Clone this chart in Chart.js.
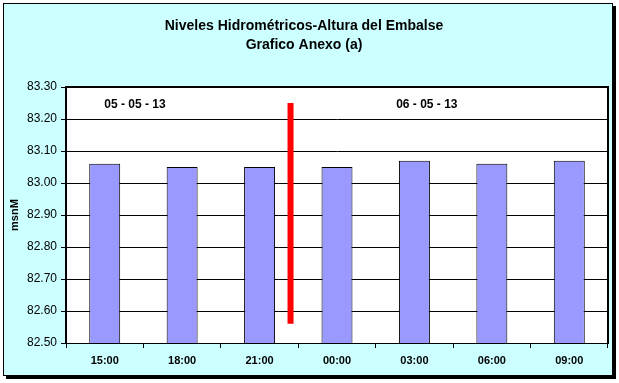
<!DOCTYPE html>
<html>
<head>
<meta charset="utf-8">
<script src="https://cdn.jsdelivr.net/npm/chart.js@4"></script>
<style>
    body { margin: 0; background: #fff; }
    .frame {
        position: absolute; left: 3px; top: 3px; width: 608px; height: 371px;
        border: 1px solid #000; box-shadow: 3px 3px 0 #000; background: #CCFFFF;
    }
    .container { position: absolute; left: 0; top: 0; width: 619px; height: 383px; }
</style>
</head>
<body>
<div class="frame"></div>
<div class="container"><canvas id="nivelesChart" width="619" height="383"></canvas></div>
<script>
const horas = ['15:00', '18:00', '21:00', '00:00', '03:00', '06:00', '09:00'];
const alturas = [83.06, 83.05, 83.05, 83.05, 83.07, 83.06, 83.07];

// red separator between days (x in category units)
const corteX = [2.4, 2.4];
const corteY = [82.56, 83.25];

const fechas = ['05 - 05 - 13', '06 - 05 - 13'];
const fechasX = [0.39, 4.16];
const fechasY = [83.245, 83.245];

const tituloLineas = ['Niveles Hidrométricos-Altura del Embalse', 'Grafico Anexo (a)'];

const plotBox = {
    id: 'plotBox',
    beforeDraw(chart) {
        const a = chart.chartArea, ctx = chart.ctx;
        ctx.save();
        ctx.fillStyle = '#fff';
        ctx.fillRect(a.left, a.top, a.right - a.left, a.bottom - a.top);
        ctx.restore();
    },
    afterDraw(chart) {
        const a = chart.chartArea, ctx = chart.ctx;
        ctx.save();
        ctx.strokeStyle = '#000';
        ctx.lineWidth = 2;
        ctx.beginPath();
        ctx.moveTo(a.left, a.bottom);
        ctx.lineTo(a.left, a.top);
        ctx.lineTo(a.right, a.top);
        ctx.lineTo(a.right, a.bottom);
        ctx.stroke();
        // day labels
        const xs = chart.scales.x2, ys = chart.scales.y;
        ctx.fillStyle = '#000';
        ctx.font = 'bold 12px "Liberation Sans", Arial, sans-serif';
        ctx.textAlign = 'center';
        ctx.textBaseline = 'middle';
        fechas.forEach((t, i) => {
            ctx.fillText(t, xs.getPixelForValue(fechasX[i]), ys.getPixelForValue(fechasY[i]));
        });
        ctx.restore();
    }
};

const ctx = document.getElementById('nivelesChart').getContext('2d');
const chart = new Chart(ctx, {
    type: 'bar',
    data: {
        labels: horas,
        datasets: [{
            type: 'bar',
            data: alturas,
            backgroundColor: '#9999FF',
            borderColor: '#000',
            borderWidth: 1,
            barPercentage: 0.4,
            categoryPercentage: 1,
            grouped: false,
            xAxisID: 'x',
            order: 2
        }, {
            type: 'line',
            data: corteX.map((x, i) => ({ x: x, y: corteY[i] })),
            borderColor: '#FF0000',
            borderWidth: 6,
            borderCapStyle: 'butt',
            pointRadius: 0,
            xAxisID: 'x2',
            order: 1
        }]
    },
    options: {
        responsive: false,
        animation: false,
        layout: { padding: { left: 0, right: 11, top: 0, bottom: 10 } },
        plugins: {
            legend: { display: false },
            tooltip: { enabled: false },
            title: {
                display: true,
                text: tituloLineas,
                color: '#000',
                font: { family: '"Liberation Sans", Arial, sans-serif', size: 14, weight: 'bold', lineHeight: 1.36 },
                padding: { top: 17, bottom: 32 }
            }
        },
        scales: {
            x: {
                type: 'category',
                offset: true,
                grid: { offset: true, drawOnChartArea: false, color: '#000', tickLength: 5, tickColor: '#000' },
                border: { color: '#000', width: 1 },
                ticks: {
                    color: '#000', padding: 6,
                    font: { family: '"Liberation Sans", Arial, sans-serif', size: 11, weight: 'bold' }
                },
                afterFit(s) { s.height = 30; }
            },
            x2: {
                type: 'linear',
                display: false,
                offset: false,
                min: -0.5,
                max: 6.5
            },
            y: {
                min: 82.5,
                max: 83.3,
                grid: { color: '#000', lineWidth: 1, tickLength: 5, tickColor: '#000' },
                border: { color: '#000', width: 2 },
                ticks: {
                    stepSize: 0.1,
                    color: '#000',
                    padding: 4,
                    font: { family: '"Liberation Sans", Arial, sans-serif', size: 12 },
                    callback: v => Number(v).toFixed(2)
                },
                title: {
                    display: true,
                    text: 'msnM',
                    color: '#000',
                    font: { family: '"Liberation Sans", Arial, sans-serif', size: 11, weight: 'bold' },
                    padding: { top: 8, bottom: 0 }
                },
                afterFit(s) { s.width = 66; }
            }
        }
    },
    plugins: [plotBox]
});
</script>
</body>
</html>
